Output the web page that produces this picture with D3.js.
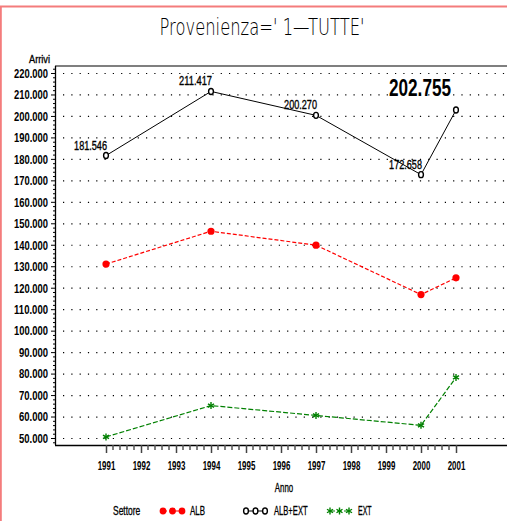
<!DOCTYPE html>
<html><head><meta charset="utf-8">
<script src="https://cdn.jsdelivr.net/npm/d3@7"></script>
<style>
body{margin:0;background:#fff;}
svg{display:block;}
text{font-family:"Liberation Sans",Arial,sans-serif;fill:#000;}
</style></head>
<body>
<svg id="c" width="507" height="521"></svg>
<script>
const years = [1991,1992,1993,1994,1995,1996,1997,1998,1999,2000,2001];
const dataYears = [1991,1994,1997,2000,2001];
const albExt = [181546,211417,200270,172658,202755];
const alb = [131000,146300,139800,116800,124600];
const ext = [50500,65100,60500,55900,78200];
const yTicks = [50000,60000,70000,80000,90000,100000,110000,120000,130000,140000,150000,160000,170000,180000,190000,200000,210000,220000];
const titleText = "Provenienza=' 1\u2014TUTTE'";
const lastLabel = "202.755";

const svg = d3.select("#c");
const fmt = v => d3.format(",")(v).replace(/,/g,".");
const tickLabel = v => (v/1000).toFixed(0) + ".000";
const narrow = (sel, perChar) => sel.each(function(){
  const t = d3.select(this).text();
  d3.select(this).attr("textLength", t.length*perChar).attr("lengthAdjust","spacingAndGlyphs");
});
const heavy = (sel, w) => sel.style("stroke","#000").style("stroke-width", w);

const x = d3.scaleLinear().domain([1991,2001]).range([106,456]);
const y = d3.scaleLinear().domain([50000,220000]).range([438,73]);
const L = 55, T = 66, B = 445, R = 507;

// red page border
svg.append("path").attr("d",`M0.8,521 L0.8,6.5 L507,6.5`).attr("fill","none").attr("stroke","#f47c7c").attr("stroke-width",2);

// title
svg.append("text").attr("x",262).attr("y",35).attr("text-anchor","middle")
  .style("font-family","'DejaVu Sans','Liberation Sans',sans-serif").style("font-weight","200")
  .attr("font-size",23).attr("textLength",205).attr("lengthAdjust","spacingAndGlyphs").text(titleText);

// grid dots
yTicks.forEach(t=>{
  svg.append("line").attr("x1",L+8).attr("x2",R).attr("y1",y(t)+0.5).attr("y2",y(t)+0.5)
    .attr("stroke","#000").attr("stroke-width",1.2).attr("stroke-dasharray","1.2,7.1");
});

// axes frame
svg.append("line").attr("x1",L).attr("x2",R).attr("y1",T).attr("y2",T).attr("stroke","#555").attr("stroke-width",1.6);
svg.append("line").attr("x1",L+0.5).attr("x2",L+0.5).attr("y1",T).attr("y2",B).attr("stroke","#000").attr("stroke-width",1.3);
svg.append("line").attr("x1",L).attr("x2",R).attr("y1",B+0.5).attr("y2",B+0.5).attr("stroke","#000").attr("stroke-width",1.3);

// y axis ticks
const yAxis = d3.axisLeft(y).tickValues(yTicks).tickSize(4).tickPadding(3).tickFormat(tickLabel);
const gy = svg.append("g").attr("transform",`translate(${L},0)`).call(yAxis);
gy.select(".domain").remove();
gy.selectAll("text").attr("font-size",12).attr("dy","0.36em").style("font-family","'Liberation Sans',Arial,sans-serif").style("font-weight","bold");
narrow(gy.selectAll("text"), 4.85);
const minorY = d3.range(48000,222001,2000).filter(v=>v%10000!==0);
svg.append("g").selectAll("line").data(minorY).join("line")
  .attr("x1",L-2).attr("x2",L).attr("y1",d=>y(d)+0.5).attr("y2",d=>y(d)+0.5).attr("stroke","#000");
heavy(narrow(svg.append("text").attr("x",50).attr("y",63).attr("text-anchor","end").attr("font-size",10).text("Arrivi"), 3.5), 0.3);

// x axis
const xAxis = d3.axisBottom(x).tickValues(years).tickSize(8).tickPadding(8).tickFormat(d3.format("d"));
const gx = svg.append("g").attr("transform",`translate(0,${B})`).call(xAxis);
gx.select(".domain").remove();
gx.selectAll("line").attr("stroke","#444").attr("stroke-width",1.5);
gx.selectAll("text").attr("font-size",12.5).style("font-family","'Liberation Sans',Arial,sans-serif").style("font-weight","bold");
narrow(gx.selectAll("text"), 4.4);
const minorX = d3.range(0,50).map(i=>1991+ (i+1)*0.2).filter(v=>Math.abs(v-Math.round(v))>0.01 && v<2001);
svg.append("g").selectAll("line").data(minorX).join("line")
  .attr("x1",d=>x(d)).attr("x2",d=>x(d)).attr("y1",B).attr("y2",B+5).attr("stroke","#555").attr("stroke-width",1.5);
heavy(narrow(svg.append("text").attr("x",284).attr("y",492).attr("text-anchor","middle").attr("font-size",12).text("Anno"), 4.6), 0.3);

const line = d3.line().x((d,i)=>x(dataYears[i])).y(d=>y(d));

// ALB
svg.append("path").attr("d",line(alb)).attr("fill","none").attr("stroke","#ff0000").attr("stroke-width",1.2).attr("stroke-dasharray","4,2");
svg.append("g").selectAll("circle").data(alb).join("circle")
  .attr("cx",(d,i)=>x(dataYears[i])).attr("cy",d=>y(d)).attr("r",3.6).attr("fill","#ff0000");

// EXT
svg.append("path").attr("d",line(ext)).attr("fill","none").attr("stroke","#008000").attr("stroke-width",1.2).attr("stroke-dasharray","5,2");
const star = (g,cx,cy)=>{
  const r=3.5;
  [[0,1],[0.87,0.5],[0.87,-0.5]].forEach(([a,b])=>{
    g.append("line").attr("x1",cx-a*r).attr("x2",cx+a*r).attr("y1",cy-b*r).attr("y2",cy+b*r).attr("stroke","#008000").attr("stroke-width",1.4);
  });
};
ext.forEach((d,i)=>star(svg,x(dataYears[i]),y(d)));

// ALB+EXT
svg.append("path").attr("d",line(albExt)).attr("fill","none").attr("stroke","#000").attr("stroke-width",1);
svg.append("g").selectAll("ellipse").data(albExt).join("ellipse")
  .attr("cx",(d,i)=>x(dataYears[i])).attr("cy",d=>y(d)).attr("rx",2.4).attr("ry",3).attr("fill","#fff").attr("stroke","#000").attr("stroke-width",1.4);

// data labels (all but last)
albExt.slice(0,4).forEach((d,i)=>{
  heavy(narrow(svg.append("text").attr("x",x(dataYears[i])+1).attr("y",y(d)-6).attr("text-anchor","end").attr("font-size",12.5).text(fmt(d)), 4.7), 0.35);
});
svg.append("text").attr("x",420).attr("y",96).attr("text-anchor","middle").attr("font-size",24)
  .style("font-weight","bold").attr("textLength",62).attr("lengthAdjust","spacingAndGlyphs").text(lastLabel);

// legend
const ly = 511;
heavy(narrow(svg.append("text").attr("x",113).attr("y",ly+4).attr("font-size",12).text("Settore"), 3.9), 0.3);
const lx = [160,243,327];
svg.append("line").attr("x1",lx[0]+3).attr("x2",lx[0]+22).attr("y1",ly).attr("y2",ly).attr("stroke","#ff0000").attr("stroke-width",1.2).attr("stroke-dasharray","4,2");
[0,1,2].forEach(k=>svg.append("circle").attr("cx",lx[0]+3+k*9.5).attr("cy",ly).attr("r",3.4).attr("fill","#ff0000"));
heavy(narrow(svg.append("text").attr("x",190).attr("y",ly+4).attr("font-size",12).text("ALB"), 5), 0.3);
svg.append("line").attr("x1",lx[1]+3).attr("x2",lx[1]+22).attr("y1",ly).attr("y2",ly).attr("stroke","#000").attr("stroke-width",1);
[0,1,2].forEach(k=>svg.append("ellipse").attr("cx",lx[1]+3+k*9.5).attr("cy",ly).attr("rx",2.4).attr("ry",3).attr("fill","#fff").attr("stroke","#000").attr("stroke-width",1.4));
heavy(narrow(svg.append("text").attr("x",274).attr("y",ly+4).attr("font-size",12).text("ALB+EXT"), 4.8), 0.3);
svg.append("line").attr("x1",lx[2]+3).attr("x2",lx[2]+22).attr("y1",ly).attr("y2",ly).attr("stroke","#008000").attr("stroke-width",1.2).attr("stroke-dasharray","5,2");
[0,1,2].forEach(k=>star(svg,lx[2]+3+k*9.5,ly));
heavy(narrow(svg.append("text").attr("x",358).attr("y",ly+4).attr("font-size",12).text("EXT"), 4.5), 0.3);
</script>
</body></html>
